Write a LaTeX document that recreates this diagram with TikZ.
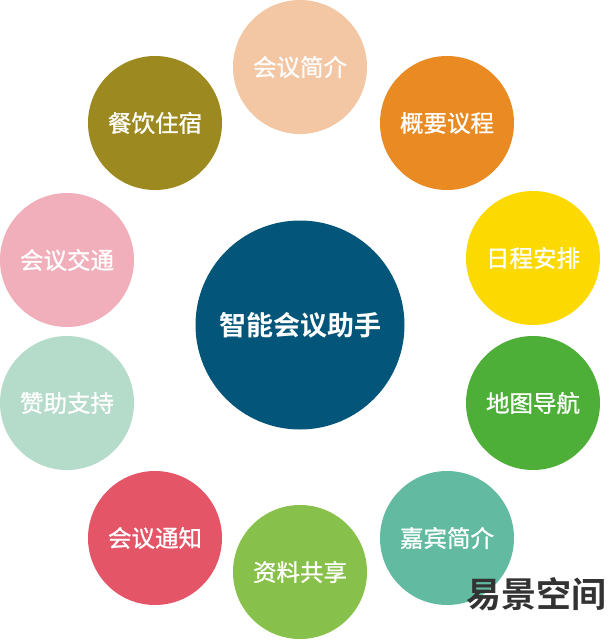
\documentclass[tikz,border=0pt]{standalone}
\usepackage{fontspec}
\newfontfamily\cjk[FakeBold=1]{Noto Sans CJK SC}
\newfontfamily\cjkb{Noto Sans CJK SC Bold}
\definecolor{cA}{HTML}{F3C6A4}
\definecolor{cB}{HTML}{E98A22}
\definecolor{cC}{HTML}{FCD900}
\definecolor{cD}{HTML}{4DAF38}
\definecolor{cE}{HTML}{62BBA1}
\definecolor{cF}{HTML}{87C04A}
\definecolor{cG}{HTML}{E35567}
\definecolor{cH}{HTML}{B5DBCA}
\definecolor{cI}{HTML}{F0AFBA}
\definecolor{cJ}{HTML}{9C891F}
\definecolor{cM}{HTML}{03557A}
\definecolor{wm}{HTML}{333333}
\tikzset{
  topic/.style={circle, fill=#1, draw=none, minimum size=134pt, inner sep=0pt,
    text=white, font=\cjk\fontsize{23.5}{23.5}\selectfont},
  hub/.style={circle, fill=cM, draw=none, minimum size=209pt, inner sep=0pt,
    text=white, font=\cjkb\fontsize{27}{27}\selectfont},
}
\begin{document}
\begin{tikzpicture}[x=1pt,y=-1pt]
\useasboundingbox (0,0) rectangle (608,640);
\node[hub] (hub) at (300,325) {智能会议助手};
\node[topic=cA] (a) at (300,67) {会议简介};
\node[topic=cB] (b) at (447,123) {概要议程};
\node[topic=cC] (c) at (533,258) {日程安排};
\node[topic=cD] (d) at (533,403) {地图导航};
\node[topic=cE] (e) at (447,538) {嘉宾简介};
\node[topic=cF] (f) at (300,572) {资料共享};
\node[topic=cG] (g) at (155,538) {会议通知};
\node[topic=cH] (h) at (67,403) {赞助支持};
\node[topic=cI] (i) at (67,260) {会议交通};
\node[topic=cJ] (j) at (155,123) {餐饮住宿};
\node[text=wm, font=\cjkb\fontsize{35}{35}\selectfont, inner sep=0pt] (wmk) at (536,594) {易景空间};
\end{tikzpicture}
\end{document}
